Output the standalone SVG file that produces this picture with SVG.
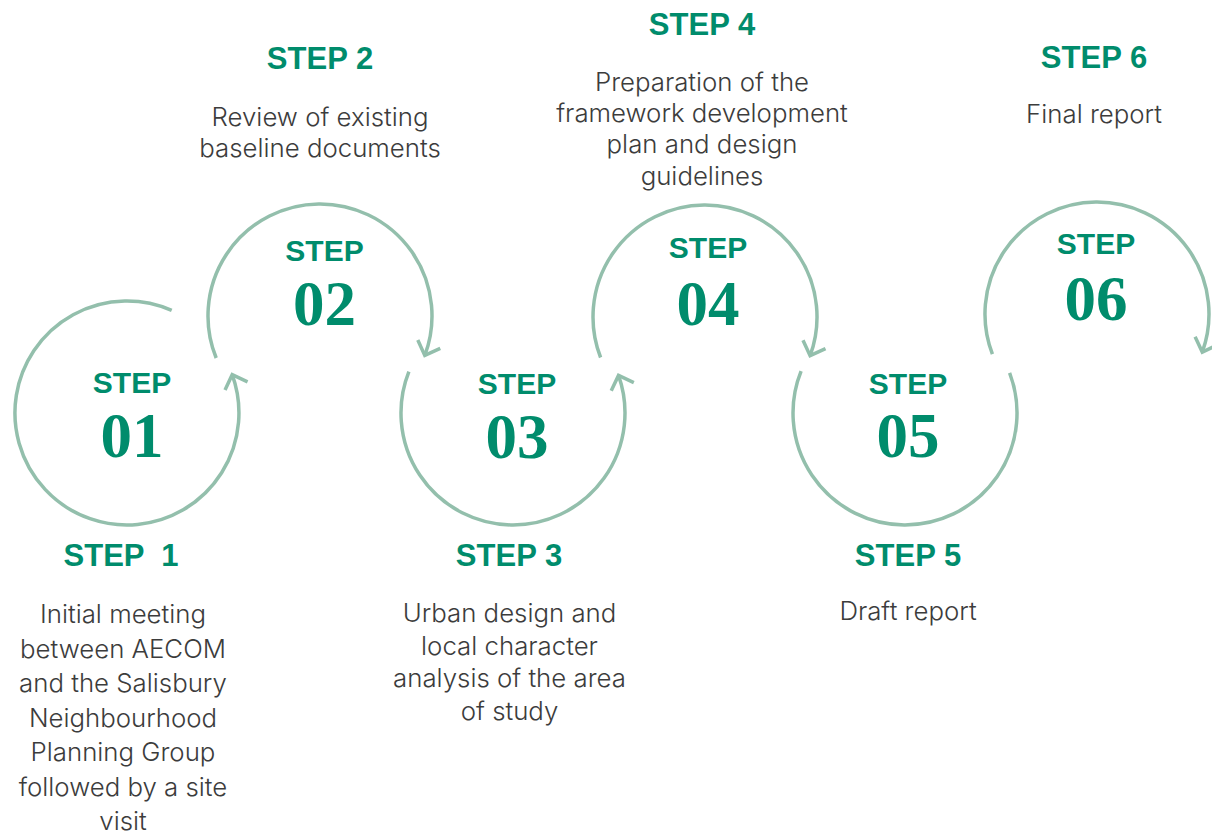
<svg xmlns="http://www.w3.org/2000/svg" width="1212" height="835" viewBox="0 0 1212 835">
<style>
.arc{fill:none;stroke:#93bfac;stroke-width:3.5}
.st{font-family:"Liberation Sans",Arial,sans-serif;font-weight:bold;font-size:30px;fill:#008c6c;text-anchor:middle}
.num{font-family:"Liberation Serif","Times New Roman",serif;font-weight:bold;font-size:63px;fill:#008c6c;text-anchor:middle}
.hd{font-family:"Liberation Sans",Arial,sans-serif;font-weight:bold;font-size:31px;fill:#008c6c;text-anchor:middle}
.bd{font-family:Inter,"Liberation Sans",sans-serif;font-weight:300;font-size:25.8px;fill:#3c3c3c;text-anchor:middle}
</style>
<defs>
<marker id="arr" markerUnits="userSpaceOnUse" markerWidth="30" markerHeight="30" viewBox="-15 -15 30 30" refX="0" refY="0" orient="auto" overflow="visible">
<path d="M-12,-12 L0,0 L-12,12" fill="none" stroke="#93bfac" stroke-width="3.5"/>
</marker>
</defs>
<g id="connectors">
<path class="arc" d="M171.7 310.3 A112 112 0 1 0 232.2 374.7" marker-end="url(#arr)"/>
<path class="arc" d="M216.2 358.0 A112 112 0 1 1 424.8 355.4" marker-end="url(#arr)"/>
<path class="arc" d="M408.9 371.6 A112 112 0 1 0 618.5 375.4" marker-end="url(#arr)"/>
<path class="arc" d="M600.6 357.5 A112 112 0 1 1 810.1 355.7" marker-end="url(#arr)"/>
<path class="arc" d="M801.1 371.2 A112 112 0 1 0 1009.6 372.9"/>
<path class="arc" d="M992.4 354.1 A112 112 0 1 1 1202.3 352.1" marker-end="url(#arr)"/>
</g>
<g id="step1">
<text class="st" x="132" y="393">STEP</text>
<text class="num" x="132" y="457">01</text>
<text class="hd" x="121" y="566" xml:space="preserve">STEP  1</text>
<text class="bd" x="123" y="623">Initial meeting</text>
<text class="bd" x="123" y="657.5">between AECOM</text>
<text class="bd" x="123" y="692">and the Salisbury</text>
<text class="bd" x="123" y="726.5">Neighbourhood</text>
<text class="bd" x="123" y="761">Planning Group</text>
<text class="bd" x="123" y="795.5">followed by a site</text>
<text class="bd" x="123" y="830">visit</text>
</g>
<g id="step2">
<text class="st" x="324.5" y="261">STEP</text>
<text class="num" x="324.5" y="325">02</text>
<text class="hd" x="320" y="69">STEP 2</text>
<text class="bd" x="320" y="126">Review of existing</text>
<text class="bd" x="320" y="157">baseline documents</text>
</g>
<g id="step3">
<text class="st" x="517" y="394">STEP</text>
<text class="num" x="517" y="458">03</text>
<text class="hd" x="509" y="566">STEP 3</text>
<text class="bd" x="509.5" y="622">Urban design and</text>
<text class="bd" x="509.5" y="655">local character</text>
<text class="bd" x="509.5" y="687">analysis of the area</text>
<text class="bd" x="509.5" y="720">of study</text>
</g>
<g id="step4">
<text class="st" x="708" y="258">STEP</text>
<text class="num" x="708" y="325">04</text>
<text class="hd" x="702" y="35">STEP 4</text>
<text class="bd" x="702" y="91">Preparation of the</text>
<text class="bd" x="702" y="122">framework development</text>
<text class="bd" x="702" y="153">plan and design</text>
<text class="bd" x="702" y="185">guidelines</text>
</g>
<g id="step5">
<text class="st" x="908" y="394">STEP</text>
<text class="num" x="908" y="457">05</text>
<text class="hd" x="908" y="566">STEP 5</text>
<text class="bd" x="908" y="620">Draft report</text>
</g>
<g id="step6">
<text class="st" x="1096" y="254">STEP</text>
<text class="num" x="1096" y="320">06</text>
<text class="hd" x="1094" y="68">STEP 6</text>
<text class="bd" x="1094" y="123">Final report</text>
</g>
</svg>
